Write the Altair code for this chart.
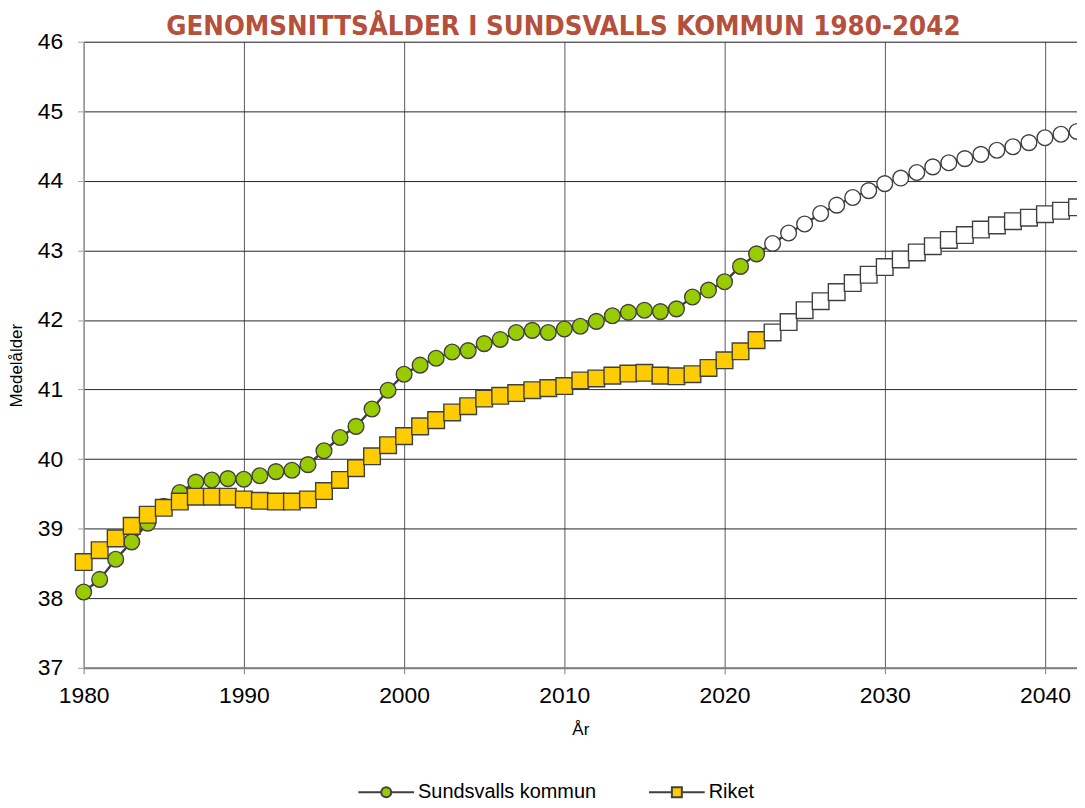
import altair as alt
import pandas as pd

years = list(range(1980, 2043))
last_actual_year = 2022
series_names = ["Sundsvalls kommun", "Riket"]
series_colors = ["#99CC00", "#FFCC00"]
series_shapes = ["circle", "square"]

sundsvall = [
    38.09, 38.27, 38.56, 38.81, 39.08, 39.32, 39.52, 39.67, 39.70, 39.72,
    39.71, 39.76, 39.82, 39.84, 39.92, 40.12, 40.31, 40.47, 40.72, 40.99,
    41.22, 41.35, 41.45, 41.54, 41.56, 41.66, 41.72, 41.82, 41.85, 41.82,
    41.87, 41.91, 41.98, 42.06, 42.11, 42.14, 42.12, 42.16, 42.33, 42.43,
    42.55, 42.77, 42.95, 43.10, 43.25, 43.38, 43.53, 43.65, 43.76, 43.86,
    43.96, 44.04, 44.12, 44.20, 44.26, 44.32, 44.38, 44.44, 44.49, 44.55,
    44.62, 44.67, 44.71,
]
riket = [
    38.52, 38.69, 38.86, 39.04, 39.20, 39.30, 39.39, 39.46, 39.46, 39.46,
    39.42, 39.40, 39.39, 39.39, 39.42, 39.54, 39.70, 39.87, 40.04, 40.20,
    40.33, 40.47, 40.56, 40.67, 40.76, 40.87, 40.91, 40.95, 40.99, 41.02,
    41.05, 41.13, 41.16, 41.20, 41.23, 41.24, 41.20, 41.19, 41.22, 41.31,
    41.42, 41.55, 41.71, 41.82, 41.97, 42.14, 42.27, 42.40, 42.53, 42.65,
    42.76, 42.87, 42.97, 43.06, 43.15, 43.22, 43.30, 43.36, 43.42, 43.47,
    43.52, 43.57, 43.62,
]
x_ticks = [1980, 1990, 2000, 2010, 2020, 2030, 2040]
y_ticks = list(range(37, 47))

rows = []
for name, vals in zip(series_names, (sundsvall, riket)):
    for yr, v in zip(years, vals):
        rows.append({"year": yr, "value": v, "series": name,
                     "prognos": yr > last_actual_year})
df = pd.DataFrame(rows)

FONT = "Liberation Sans"
LINE = "#404040"

x_enc = alt.X(
    "year:Q",
    scale=alt.Scale(domain=[1980, 2042], nice=False, zero=False),
    axis=alt.Axis(
        values=x_ticks, format="d", title="År", labelFlush=False,
        labelFont=FONT, labelFontSize=23, labelColor="black", labelPadding=11,
        tickSize=6, tickColor="#808080", domainColor="#808080", domainWidth=2,
        gridColor="#595959", gridWidth=1,
        titleFont=FONT, titleFontSize=17, titleFontWeight="normal", titleColor="black",
        titleBaseline="alphabetic", titleY=67,
    ),
)
y_enc = alt.Y(
    "value:Q",
    scale=alt.Scale(domain=[37, 46], nice=False, zero=False),
    axis=alt.Axis(
        values=y_ticks, format="d", title="Medelålder", labelFlush=False,
        labelFont=FONT, labelFontSize=23, labelColor="black", labelPadding=15,
        tickSize=6, tickColor="#A0A0A0", domainColor="#A0A0A0", domainWidth=1,
        gridColor="#262626", gridWidth=1,
        titleFont=FONT, titleFontSize=17, titleFontWeight="normal", titleColor="black",
        titleX=-67, titleY=325, titleBaseline="middle", titleAngle=-90,
    ),
)

# legend symbols: a short line through the marker
circle_path = "M-5.6,0H-1M1,0H5.6M1,0A1,1 0 1,1 -1,0A1,1 0 1,1 1,0Z"
square_path = "M-5.6,0H-1M1,0H5.6M-1,-1H1V1H-1Z"

legend = alt.Legend(
    title=None, orient="none", legendX=294, legendY=744, direction="horizontal",
    labelFont=FONT, labelFontSize=20, labelColor="black", labelOffset=22,
    labelLimit=400, columnPadding=49, symbolSize=100, symbolStrokeWidth=2,
    symbolOpacity=1, padding=0,
)

base = alt.Chart(df)
layers = []
sizes = [250, 280]
for name, color, shape, size in zip(series_names, series_colors, series_shapes, sizes):
    sub = base.transform_filter(alt.datum.series == name)
    layers.append(
        sub.mark_line(color=LINE, strokeWidth=2.4).encode(x=x_enc, y=y_enc)
    )
    layers.append(
        sub.mark_point(filled=True, shape=shape, size=size, stroke=LINE,
                       strokeWidth=1.4, opacity=1)
        .encode(
            x=x_enc, y=y_enc,
            fill=alt.condition(alt.datum.prognos, alt.value("white"), alt.value(color)),
        )
    )

# legend-only layer (draws no marks)
legend_layer = (
    base.transform_filter("false")
    .mark_point(filled=False, strokeWidth=2, opacity=1)
    .encode(
        x=x_enc, y=y_enc,
        shape=alt.Shape("series:N", scale=alt.Scale(domain=series_names,
                        range=[circle_path, square_path]), legend=legend),
        fill=alt.Fill("series:N", scale=alt.Scale(domain=series_names,
                      range=series_colors), legend=legend),
        stroke=alt.Stroke("series:N", scale=alt.Scale(domain=series_names,
                          range=[LINE, LINE]), legend=legend),
    )
)
layers.append(legend_layer)

chart = (
    alt.layer(*layers)
    .properties(
        width=998, height=629,
        title=alt.Title(
            "GENOMSNITTSÅLDER I SUNDSVALLS KOMMUN 1980-2042",
            font="Liberation Sans Narrow, DejaVu Sans Condensed, sans-serif",
            fontSize=27.5, fontWeight="bold", color="#B5503C",
            anchor="middle", dx=-17, dy=14, offset=4,
        ),
        autosize=alt.AutoSizeParams(type="none"),
        padding={"left": 76, "top": 32, "right": 0, "bottom": 139},
    )
    .configure_view(stroke="#8c8c8c", strokeWidth=1)
    .configure(background="white")
)

chart.save("out.html", embed_options={"renderer": "svg", "actions": False})
